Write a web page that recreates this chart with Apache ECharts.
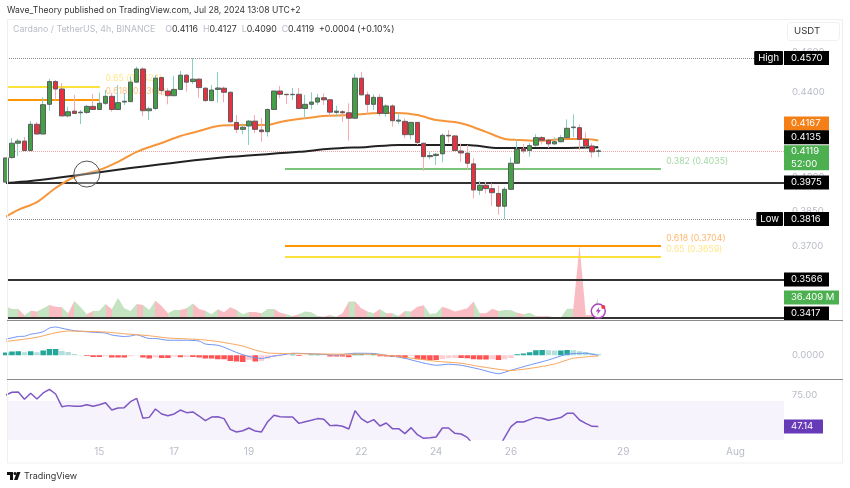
<!DOCTYPE html>
<html>
<head>
<meta charset="utf-8">
<style>html,body{margin:0;padding:0;background:#fff}#main{width:850px;height:488px}</style>
<script src="https://cdn.jsdelivr.net/npm/echarts@6/dist/echarts.min.js"></script>
</head>
<body>
<div id="main"></div>
<script>
// 4h candles
const opens = [
  .3977,.4088,.4154,.4164,.4120,.4243,.4197,.4339,.4451,.4414,
  .4283,.4306,.4298,.4300,.4329,.4314,.4344,.4378,.4314,.4350,
  .4352,.4448,.4514,.4308,.4319,.4471,.4404,.4381,.4412,.4483,
  .4451,.4463,.4418,.4357,.4412,.4418,.4398,.4252,.4219,.4235,
  .4258,.4216,.4208,.4314,.4404,.4388,.4386,.4388,.4319,.4339,
  .4350,.4371,.4361,.4300,.4303,.4298,.4272,.4468,.4385,.4339,
  .4373,.4295,.4331,.4258,.4257,.4194,.4252,.4154,.4092,.4097,
  .4105,.4191,.4188,.4118,.4108,.4059,.3941,.3963,.3948,.3927,
  .3871,.3945,.4062,.4128,.4120,.4145,.4180,.4168,.4151,.4161,
  .4180,.4227,.4227,.4172,.4141,.4116]
const closes = [
  .4086,.4154,.4164,.4120,.4243,.4197,.4337,.4451,.4414,.4283,
  .4303,.4295,.4301,.4329,.4314,.4344,.4378,.4314,.4347,.4354,
  .4448,.4514,.4308,.4317,.4468,.4406,.4381,.4412,.4483,.4448,
  .4463,.4421,.4357,.4409,.4419,.4398,.4255,.4219,.4229,.4258,
  .4219,.4208,.4314,.4404,.4388,.4386,.4388,.4319,.4339,.4350,
  .4370,.4361,.4301,.4306,.4298,.4272,.4468,.4385,.4339,.4373,
  .4295,.4331,.4260,.4263,.4194,.4252,.4157,.4092,.4097,.4103,
  .4191,.4188,.4120,.4109,.4062,.3942,.3963,.3948,.3930,.3871,
  .3945,.4062,.4126,.4118,.4143,.4180,.4168,.4151,.4161,.4180,
  .4224,.4230,.4172,.4141,.4114,.4119]
const lows = [
  .3977,.4082,.4095,.4118,.4118,.4197,.4197,.4308,.4360,.4283,
  .4276,.4292,.4244,.4292,.4311,.4314,.4336,.4303,.4311,.4336,
  .4352,.4448,.4282,.4263,.4311,.4385,.4339,.4380,.4412,.4401,
  .4439,.4371,.4352,.4357,.4347,.4349,.4250,.4201,.4197,.4146,
  .4201,.4161,.4185,.4311,.4368,.4341,.4360,.4319,.4271,.4314,
  .4336,.4336,.4279,.4279,.4255,.4166,.4271,.4385,.4292,.4311,
  .4283,.4279,.4232,.4244,.4177,.4172,.4146,.4028,.4080,.4054,
  .4066,.4157,.4120,.4069,.4034,.3905,.3920,.3927,.3872,.3834,
  .3816,.3945,.4059,.4108,.4092,.4138,.4149,.4131,.4146,.4158,
  .4180,.4182,.4123,.4134,.4088,.4090]
const highs = [
  .4086,.4178,.4174,.4183,.4258,.4255,.4373,.4464,.4459,.4444,
  .4327,.4385,.4311,.4336,.4390,.4396,.4409,.4395,.4434,.4395,
  .4475,.4526,.4523,.4327,.4484,.4475,.4418,.4479,.4504,.4489,
  .4570,.4468,.4423,.4434,.4498,.4426,.4401,.4287,.4247,.4263,
  .4287,.4273,.4319,.4404,.4429,.4390,.4419,.4419,.4385,.4398,
  .4390,.4393,.4365,.4332,.4311,.4344,.4489,.4500,.4401,.4388,
  .4388,.4339,.4339,.4295,.4271,.4255,.4255,.4157,.4115,.4108,
  .4200,.4216,.4192,.4154,.4146,.4085,.3982,.3979,.3971,.3961,
  .3955,.4089,.4172,.4151,.4154,.4196,.4188,.4174,.4182,.4192,
  .4266,.4290,.4244,.4205,.4154,.4127]

// moving averages, only at the candles where they were read
const ema50Idx = [0,2,5,8,11,15,18,21,25,28,31,34,38,42,44,47,51,55,60,63,66,69,72,74,77,80,82,85,90,93,95]
const ema50 = [.3825,.3855,.3889,.3951,.4000,.4031,.4068,.4114,.4155,.4188,.4211,.4235,.4240,.4240,.4254,.4268,.4283,.4287,.4297,.4297,.4287,.4263,.4254,.4240,.4207,.4174,.4169,.4165,.4174,.4174,.4167]
const ema200Idx = [0,4,8,13,20,28,36,47,52,58,63,68,74,79,84,90,95]
const ema200 = [.3973,.3982,.3995,.4013,.4040,.4068,.4091,.4114,.4128,.4137,.4146,.4146,.4146,.4132,.4132,.4132,.4135]

// volume in millions
const volumes = [
  20.4,16.3,16.3,5.2,13.4,11.7,17.5,23.3,20.4,19.2,
  8.7,30.3,19.2,7,12.8,13.4,25.1,15.7,35.6,17.5,
  12.8,25.1,23.3,14.6,30.9,21.6,8.7,14.6,14.6,17.5,
  25.7,16.3,13.4,7,15.7,10.5,19.2,14.6,7,11.1,
  11.1,8.7,16.3,16.3,9.9,7,4.1,7,11.7,10.5,
  4.1,2.9,5.8,2.9,8.7,29.2,29.2,17.5,11.7,8.7,
  16.3,8.7,8.7,4.1,12.8,11.7,20.4,22.7,7.6,8.7,
  20.4,16.9,11.7,14.6,17.5,29.2,8.7,8.7,16.9,12.8,
  14.6,14,9.9,7,9.9,4.1,3.5,4.1,1.2,1.2,
  16.9,16.9,128.3,5.8,5.8,36.409]

// MACD
const macdHist = [
  .0011,.0015,.0016,.0012,.0016,.0012,.0019,.0025,.0025,.0017,
  .0013,.0005,.0001,-.0003,-.0007,-.0007,-.0004,-.0009,-.0009,-.0009,
  -.0004,-.0001,-.0009,-.0013,-.0008,-.0011,-.0011,-.0005,-.0008,-.0007,
  -.0007,-.0009,-.0013,-.0013,-.0016,-.0016,-.0023,-.0025,-.0027,-.0019,
  -.0025,-.0023,-.0013,-.0007,-.0004,-.0001,.0003,-.0003,-.0001,.0003,
  .0003,.0002,-.0005,-.0005,-.0005,-.0008,.0005,.0005,.0004,.0005,
  -.0004,-.0005,-.0007,-.0007,-.0012,-.0003,-.0016,-.0019,-.0019,-.0019,
  -.0015,-.0012,-.0011,-.0011,-.0012,-.0016,-.0017,-.0017,-.0016,-.0019,
  -.0016,-.0011,.0004,.0007,.0012,.0020,.0021,.0020,.0019,.0019,
  .0021,.0020,.0016,.0013,.0008,.0005]
const macdIdx = [0,2,3,4,5,6,7,8,9,11,12,14,16,17,19,20,21,23,24,26,29,31,32,34,35,37,39,41,43,45,46,50,53,56,59,61,64,66,69,71,73,76,79,81,84,87,90,93,95]
const macdLine = [.0064,.0075,.0076,.0084,.0088,.0094,.0109,.0113,.0108,.0098,.0096,.0092,.0089,.0081,.0075,.0077,.0082,.0067,.0067,.0060,.0060,.0057,.0045,.0040,.0032,.0011,-.0005,-.0013,-.0003,.0004,.0008,.0005,.0001,.0008,.0007,0,-.0012,-.0025,-.0040,-.0036,-.0040,-.0056,-.0074,-.0060,-.0039,-.0019,.0004,.0008,-.0001]
const signalIdx = [0,2,5,8,10,12,16,19,23,26,31,34,35,38,40,42,45,50,56,59,61,64,69,73,76,81,85,88,91,95]
const signalLine = [.0055,.0061,.0072,.0090,.0097,.0096,.0093,.0086,.0078,.0069,.0063,.0055,.0051,.0037,.0021,.0009,.0007,.0005,.0004,.0004,0,-.0008,-.0024,-.0032,-.0045,-.0061,-.0049,-.0035,-.0012,-.0003]

// RSI
const rsi = [
  75,77.4,77.7,71.2,76.5,71.5,76.8,80,75.9,64.7,
  65.6,65,65,66.4,65,66.4,68.2,61.7,63.5,63.8,
  69.1,72,54.4,55.2,62.6,58.2,56.7,58.2,61.7,59.4,
  60,56.4,52.3,55.5,55.8,54.1,44.6,42.3,43.4,45.8,
  43.1,42.3,51.4,57,55.8,55.5,55.5,49.9,51.4,52.6,
  54.1,53.5,47.9,48.2,47.3,44.9,61.1,54.1,50.5,53.2,
  47.6,50.2,45.2,45.2,40.8,46.1,39.9,36.7,37.2,37.8,
  45.8,45.8,41.1,40.5,37.5,30.8,32.2,31.6,30.8,27.8,
  37.5,47,51.4,51.1,53.2,55.2,54.4,52.6,53.8,55,
  58.8,58.8,52.9,49.9,47.3,47.14]

// axis ticks
const dayTickIdx = [15,27,39,57,69,81,99,117]
const dayTickLabels = ['15','17','19','22','24','26','29','Aug']
const priceTicks = [.46,.44,.42,.40,.385,.37,.355,.34]

// horizontal levels and fibs
const high = .4570, low = .3816, last = .4119
const blackLevels = [.3975,.3566,.3417]
const fibLeft = {yellow:.4424, orange:.4360}
const fibMid = {green:.4035, orange:.3704, yellow:.3659}

// panes share the same index scale
const xMin = 0.199, xMax = 124.78
const FONT = 'Inter, "Noto Sans", sans-serif'
const GREY = '#b8bcc6'

const idx = opens.map((_, i) => i)
const pair = (xs, ys) => xs.map((x, i) => [x, ys[i]])

const wickData = idx.map(i => [i, opens[i], closes[i], lows[i], highs[i]])
const bodyData = idx.map(i => [i, opens[i], closes[i], Math.min(opens[i], closes[i]), Math.max(opens[i], closes[i])])

// volume area changes colour at each candle
const volPieces = idx.map(i => ({
  gt: i === 0 ? -1 : i - 1,
  lte: i,
  color: closes[i] >= opens[i] ? '#c3e3c1' : '#f9bcc2'
}))

const histData = macdHist.map((v, i) => {
  const prev = i ? macdHist[i - 1] : 0
  let color
  if (v >= 0) color = v >= prev ? '#26a69a' : '#b2dfdb'
  else color = v <= prev ? '#ff5252' : '#ffcdd2'
  return {value: [i, v], itemStyle: {color}}
})

const hline = (x0, x1, y, color, width, type) => [
  {coord: [x0, y], lineStyle: {color, width, type: type || 'solid'}},
  {coord: [x1, y]}
]
const edge = xMax - 0.001
const highLowEnd = 120.3

// price tags hang off the right edge of the pane
const tag = (value, text, color, opts) => ({
  coord: [edge, value],
  symbolSize: 0,
  label: Object.assign({
    show: true, position: 'right', distance: 0, formatter: text, color: '#fff',
    fontFamily: FONT, fontSize: 9.5, backgroundColor: color,
    lineHeight: 14, padding: [0, 0, 0, 7], width: 38, align: 'left'
  }, opts || {})
})
const nameTag = (value, text) => ({
  coord: [edge, value],
  symbolSize: 0,
  label: {
    show: true, position: 'left', distance: 0, formatter: text, color: '#fff', offset: [-1, 0],
    fontFamily: FONT, fontSize: 9.5, backgroundColor: '#000', lineHeight: 14, padding: [0, 4], borderRadius: 1
  }
})
const fibText = (x, y, text, color, dy) => ({
  coord: [x, y],
  symbolSize: 0,
  label: {show: true, position: 'right', distance: 0, formatter: text, color, fontFamily: FONT, fontSize: 8.7, offset: [0, dy]}
})

const midEnd = 105.05, midStart = 44.77, leftEnd = 15.1

const series = [
  // levels sit behind the candles
  {
    type: 'line', xAxisIndex: 0, yAxisIndex: 0, data: [], z: 1,
    markLine: {
      silent: true, symbol: 'none', animation: false, z: 1, label: {show: false},
      data: [
        hline(xMin, highLowEnd, high, '#8a8a8a', 1, 'dotted'),
        hline(xMin, highLowEnd, low, '#8a8a8a', 1, 'dotted'),
        hline(xMin, edge, last, '#f4a6a6', 1, 'dotted'),
        ...blackLevels.map(v => hline(xMin, edge, v, '#333', 2)),
        hline(xMin, leftEnd, fibLeft.yellow, '#fde23c', 2),
        hline(xMin, leftEnd, fibLeft.orange, '#ff9800', 2),
        hline(midStart, midEnd, fibMid.green, '#7cc47c', 2),
        hline(midStart, midEnd, fibMid.orange, '#ff9800', 2),
        hline(midStart, midEnd, fibMid.yellow, '#fde23c', 2)
      ]
    },
    markPoint: {
      silent: true, animation: false, z: 1, symbol: 'circle',
      data: [
        fibText(16, fibLeft.yellow, '0.65 (0.4424)', '#ffe68a', -9),
        fibText(16, fibLeft.orange, '0.618 (0.4360)', '#ffc27d', -9),
        fibText(105.9, fibMid.green, '0.382 (0.4035)', '#a3d8a3', -8),
        fibText(105.9, fibMid.orange, '0.618 (0.3704)', '#ffb66b', -7),
        fibText(105.9, fibMid.yellow, '0.65 (0.3659)', '#ffe68a', -7.5)
      ]
    }
  },
  {
    type: 'line', xAxisIndex: 0, yAxisIndex: 0, z: 2, data: pair(ema50Idx, ema50), smooth: 0.3,
    symbol: 'none', lineStyle: {color: '#f7953a', width: 2}
  },
  {
    type: 'line', xAxisIndex: 0, yAxisIndex: 0, z: 2, data: pair(ema200Idx, ema200), smooth: 0.3,
    symbol: 'none', lineStyle: {color: '#222', width: 2}
  },
  // two candle layers: pale wicks, then dark outlined bodies
  {
    type: 'candlestick', xAxisIndex: 0, yAxisIndex: 0, z: 3, data: wickData, barWidth: 1,
    itemStyle: {color: '#86d0c4', color0: '#f8a9b0', borderColor: '#86d0c4', borderColor0: '#f8a9b0', borderWidth: 1}
  },
  {
    type: 'candlestick', xAxisIndex: 0, yAxisIndex: 0, z: 3, data: bodyData, barWidth: 5,
    itemStyle: {color: '#43a047', color0: '#ea2f41', borderColor: '#5d5d5d', borderColor0: '#5d5d5d', borderWidth: 1},
    markPoint: {
      silent: true, animation: false, z: 10,
      data: [
        // crossing marker
        {coord: [13, .4013], symbol: 'circle', symbolSize: 26, itemStyle: {color: 'rgba(255,255,255,0.3)', borderColor: '#555', borderWidth: 1}, label: {show: false}},
        // flash icon at the last bar
        {coord: [95, .3442], symbol: 'circle', symbolSize: 14, itemStyle: {color: '#fff', borderColor: '#ab47bc', borderWidth: 1.5}, label: {show: false}},
        {coord: [95, .3442], symbol: 'path://M6 0 L1 6 H4 L3 11 L8 4 H5 Z', symbolSize: [5, 8], itemStyle: {color: '#ab47bc'}, label: {show: false}},
        {coord: [95, .3442], symbol: 'circle', symbolSize: 4, symbolOffset: [5, -4], itemStyle: {color: '#f23645'}, label: {show: false}},
        // right hand tags
        nameTag(high, 'High'), tag(high, '0.4570', '#000'),
        tag(.4167, '0.4167', '#f57f17', {offset: [0, -17]}),
        tag(.4135, '0.4135', '#000', {offset: [0, -10]}),
        tag(last, '0.4119\n52:00', '#4caf50', {offset: [0, 7], lineHeight: 12.5, padding: [0, 0, 0, 7]}),
        tag(.3975, '0.3975', '#000'),
        nameTag(low, 'Low'), tag(low, '0.3816', '#000'),
        tag(.3566, '0.3566', '#000'),
        tag(.3417, '0.3417', '#000', {offset: [0, -4]})
      ]
    }
  },
  // volume
  {
    type: 'line', xAxisIndex: 1, yAxisIndex: 1, z: 0, data: pair(idx, volumes),
    symbol: 'none', lineStyle: {width: 0}, areaStyle: {opacity: 1},
    markPoint: {
      silent: true, animation: false, z: 10,
      data: [tag(36.409, '36.409 M', '#4caf50', {width: 48})]
    }
  },
  // MACD
  {type: 'bar', xAxisIndex: 2, yAxisIndex: 2, barWidth: 5.5, data: histData},
  {type: 'line', xAxisIndex: 2, yAxisIndex: 2, data: pair(macdIdx, macdLine), symbol: 'none', smooth: 0.2, z: 3, lineStyle: {color: '#6e93f2', width: 1}},
  {type: 'line', xAxisIndex: 2, yAxisIndex: 2, data: pair(signalIdx, signalLine), symbol: 'none', smooth: 0.2, z: 3, lineStyle: {color: '#f9a55a', width: 1}},
  // RSI
  {
    type: 'line', xAxisIndex: 3, yAxisIndex: 3, data: pair(idx, rsi), symbol: 'none', z: 3,
    lineStyle: {color: '#7e57c2', width: 1.5},
    markArea: {silent: true, animation: false, itemStyle: {color: '#f6f3fc'}, data: [[{yAxis: 70}, {yAxis: 35.18}]]},
    markPoint: {
      silent: true, animation: false, z: 10,
      data: [tag(47.14, '47.14', '#673ab7', {width: 32})]
    }
  }
]

const sharedX = (gridIndex, extra) => Object.assign({
  type: 'value', gridIndex, min: xMin, max: xMax,
  axisLine: {show: false}, axisTick: {show: false}, splitLine: {show: false}, axisLabel: {show: false}
}, extra || {})

const rightLabel = (extra) => Object.assign({color: GREY, fontFamily: FONT, fontSize: 9.5, margin: 8}, extra)

const chart = echarts.init(document.getElementById('main'), null, {renderer: 'canvas'})
chart.setOption({
  animation: false,
  backgroundColor: '#fff',
  title: [
    {text: 'Wave_Theory published on TradingView.com, Jul 28, 2024 13:08 UTC+2', left: 7, top: 6, padding: 0,
      textStyle: {fontFamily: FONT, fontSize: 8.6, fontWeight: 'normal', color: '#333'}},
    {text: '{g|Cardano / TetherUS, 4h, BINANCE    O}{d|0.4116}{g|  H}{d|0.4127}{g|  L}{d|0.4090}{g|  C}{d|0.4119}{d|  +0.0004 (+0.10%)}',
      left: 13, top: 25, padding: 0,
      textStyle: {fontWeight: 'normal', rich: {
        g: {fontFamily: FONT, fontSize: 8.8, fontWeight: 'normal', color: '#b8bcc6'},
        d: {fontFamily: FONT, fontSize: 8.8, fontWeight: 'normal', color: '#333'}
      }}}
  ],
  grid: [
    {left: 7, top: 19, width: 777, height: 301.5},
    {left: 7, top: 240, width: 777, height: 78.3},
    {left: 7, top: 321, width: 777, height: 58},
    {left: 7, top: 379, width: 777, height: 61}
  ],
  xAxis: [
    sharedX(0), sharedX(1), sharedX(2),
    sharedX(3, {axisLabel: {
      show: true, color: GREY, fontFamily: FONT, fontSize: 10, margin: 7, hideOverlap: false,
      customValues: dayTickIdx,
      formatter: v => dayTickLabels[dayTickIdx.indexOf(v)]
    }})
  ],
  yAxis: [
    {type: 'log', logBase: Math.E, gridIndex: 0, position: 'right', min: .3406, max: .4774, splitLine: {show: false}, axisLine: {show: false}, axisTick: {show: false},
      axisLabel: rightLabel({customValues: priceTicks, formatter: v => v.toFixed(4)})},
    {type: 'value', gridIndex: 1, position: 'right', min: 0, max: 137, show: false},
    {type: 'value', gridIndex: 2, position: 'right', min: -.0095, max: .0137, splitLine: {show: false}, axisLine: {show: false}, axisTick: {show: false},
      axisLabel: rightLabel({customValues: [0], formatter: v => v.toFixed(4)})},
    {type: 'value', gridIndex: 3, position: 'right', min: 35.18, max: 89.16, splitLine: {show: false}, axisLine: {show: false}, axisTick: {show: false},
      axisLabel: rightLabel({customValues: [75], formatter: v => v.toFixed(2)})}
  ],
  visualMap: {type: 'piecewise', show: false, dimension: 0, seriesIndex: 5, pieces: volPieces},
  series,
  graphic: [
    {type: 'rect', shape: {x: 7.5, y: 19.5, width: 835, height: 443.5}, style: {fill: 'none', stroke: '#efefef'}, silent: true, z: 20},
    {type: 'line', shape: {x1: 7, y1: 320.5, x2: 843, y2: 320.5}, style: {stroke: '#8a8a8a'}, silent: true, z: 20},
    {type: 'line', shape: {x1: 7, y1: 379.5, x2: 843, y2: 379.5}, style: {stroke: '#8a8a8a'}, silent: true, z: 20},
    {type: 'rect', shape: {x: 787.5, y: 22.5, width: 52, height: 18, r: 3}, style: {fill: '#fff', stroke: '#efefef'}, silent: true, z: 20},
    {type: 'text', style: {text: 'USDT', x: 794, y: 26, font: '9.6px ' + FONT, fill: '#333'}, silent: true, z: 21},
    // TradingView mark
    {type: 'polygon', shape: {points: [[7,472],[13,472],[13,480],[10,480],[10,475],[7,475]]}, style: {fill: '#111'}, silent: true, z: 20},
    {type: 'circle', shape: {cx: 15, cy: 473.5, r: 1.5}, style: {fill: '#111'}, silent: true, z: 20},
    {type: 'polygon', shape: {points: [[17,472],[20.5,472],[17.5,480],[14,480]]}, style: {fill: '#111'}, silent: true, z: 20},
    {type: 'text', style: {text: 'TradingView', x: 24, y: 471.5, font: '9px ' + FONT, fill: '#333'}, silent: true, z: 20}
  ]
})
</script>
</body>
</html>
